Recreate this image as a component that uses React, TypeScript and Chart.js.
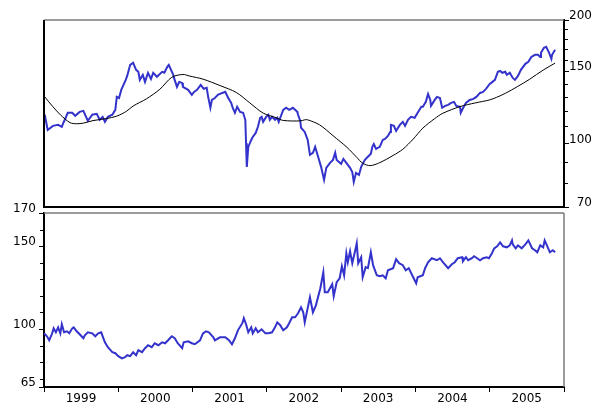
import React, { useEffect, useRef } from "react";
import { Chart, registerables } from "chart.js";
Chart.register(...registerables);

// ---- Top panel: price (log scale, right axis) and its moving average ----
const priceYears = [1999.01,1999.05,1999.12,1999.19,1999.24,1999.26,1999.28,1999.32,1999.38,1999.42,1999.48,1999.53,1999.59,1999.65,1999.71,1999.75,1999.79,1999.82,1999.86,1999.92,1999.96,1999.98,2000.01,2000.04,2000.10,2000.12,2000.16,2000.20,2000.24,2000.27,2000.29,2000.33,2000.36,2000.40,2000.44,2000.47,2000.52,2000.59,2000.62,2000.66,2000.68,2000.74,2000.75,2000.79,2000.82,2000.86,2000.87,2000.94,2000.99,2001.02,2001.06,2001.09,2001.11,2001.15,2001.19,2001.21,2001.24,2001.26,2001.30,2001.34,2001.40,2001.44,2001.48,2001.52,2001.54,2001.57,2001.60,2001.64,2001.68,2001.71,2001.72,2001.73,2001.75,2001.79,2001.81,2001.85,2001.88,2001.91,2001.93,2001.95,2001.99,2002.02,2002.04,2002.07,2002.11,2002.14,2002.16,2002.22,2002.26,2002.30,2002.35,2002.41,2002.42,2002.45,2002.46,2002.51,2002.55,2002.58,2002.62,2002.65,2002.69,2002.73,2002.77,2002.80,2002.85,2002.89,2002.92,2002.94,2003.00,2003.03,2003.07,2003.12,2003.15,2003.17,2003.20,2003.24,2003.27,2003.32,2003.36,2003.40,2003.42,2003.44,2003.47,2003.52,2003.56,2003.59,2003.63,2003.66,2003.67,2003.71,2003.74,2003.79,2003.83,2003.86,2003.90,2003.94,2003.99,2004.03,2004.08,2004.10,2004.14,2004.17,2004.20,2004.21,2004.26,2004.29,2004.33,2004.36,2004.40,2004.44,2004.48,2004.52,2004.55,2004.60,2004.61,2004.65,2004.68,2004.73,2004.78,2004.82,2004.87,2004.91,2004.95,2005.00,2005.02,2005.07,2005.11,2005.14,2005.17,2005.21,2005.23,2005.27,2005.31,2005.34,2005.38,2005.42,2005.48,2005.52,2005.56,2005.61,2005.65,2005.68,2005.69,2005.73,2005.76,2005.80,2005.83,2005.84,2005.88];
const priceValues = [117.5,107.9,110.4,111.0,109.8,112.3,114.2,118.8,118.8,116.8,119.4,120.1,113.6,117.5,118.1,114.2,116.1,112.9,116.1,117.5,120.8,129.9,129.1,135.1,142.9,146.1,155.5,157.3,151.2,149.5,142.9,147.0,141.3,148.7,143.7,148.7,145.4,149.5,148.7,153.8,155.5,147.0,144.5,137.4,141.3,140.5,137.4,135.1,131.4,133.6,135.1,137.4,138.9,135.9,136.6,129.9,122.2,127.7,129.1,131.4,132.8,133.6,129.1,125.6,122.2,118.8,122.9,119.4,118.8,114.2,100.1,87.7,98.1,102.0,103.7,106.1,109.8,115.5,116.1,112.9,116.1,117.5,114.2,116.1,114.2,115.5,112.9,120.8,122.2,120.8,122.2,119.4,117.5,113.5,109.2,106.7,102.0,93.8,94.9,98.1,92.8,87.7,81.5,87.2,89.7,91.2,94.9,91.2,89.2,91.7,89.7,87.2,85.2,80.6,84.8,83.8,87.7,91.2,92.8,94.4,98.1,99.7,97.0,98.1,102.0,102.6,104.3,106.7,111.0,110.4,107.3,111.0,112.9,110.4,114.2,116.1,115.5,118.8,122.9,122.9,126.3,132.1,127.7,123.5,127.7,129.9,129.1,122.2,123.5,124.2,125.6,126.3,123.5,122.9,118.8,122.9,125.6,127.7,128.4,129.9,132.8,133.6,135.9,139.7,140.5,142.9,149.5,150.3,148.7,149.5,147.0,148.7,144.5,142.9,146.1,151.2,156.4,158.1,162.6,164.5,164.5,162.6,166.3,171.1,172.0,166.3,160.8,164.5,169.2];

const avgYears = [1999.01,1999.12,1999.22,1999.35,1999.44,1999.53,1999.66,1999.84,1999.98,2000.11,2000.20,2000.38,2000.56,2000.72,2000.87,2000.96,2001.14,2001.37,2001.59,2001.77,2001.95,2002.13,2002.22,2002.45,2002.51,2002.55,2002.71,2002.89,2003.08,2003.21,2003.29,2003.39,2003.52,2003.70,2003.83,2003.97,2004.10,2004.26,2004.37,2004.60,2004.80,2005.00,2005.09,2005.21,2005.37,2005.54,2005.72,2005.88];
const avgValues = [129.9,122.9,117.5,112.4,111.7,112.1,113.7,115.0,116.6,119.8,123.4,128.5,135.6,145.0,147.3,146.0,143.5,138.4,133.1,125.6,118.6,115.5,113.8,113.5,114.2,114.2,111.0,104.5,97.8,92.5,89.5,88.3,89.8,93.5,96.8,102.5,109.0,115.0,118.5,123.0,125.5,127.7,129.5,132.5,137.5,143.5,151.0,157.0];

const topTicks = [70, 100, 150, 200];
const topMinorTicks = [80, 90, 110, 120, 130, 140, 160, 170, 180, 190];

// ---- Bottom panel: relative series (linear, left axis) ----
const relYears = [1999.00,1999.04,1999.07,1999.11,1999.13,1999.16,1999.19,1999.22,1999.24,1999.27,1999.31,1999.34,1999.38,1999.40,1999.44,1999.48,1999.53,1999.55,1999.59,1999.65,1999.69,1999.73,1999.77,1999.79,1999.82,1999.86,1999.92,1999.96,2000.00,2000.05,2000.09,2000.12,2000.16,2000.20,2000.24,2000.27,2000.32,2000.36,2000.40,2000.45,2000.49,2000.54,2000.59,2000.63,2000.67,2000.72,2000.76,2000.80,2000.86,2000.88,2000.94,2000.99,2001.03,2001.10,2001.14,2001.18,2001.22,2001.28,2001.30,2001.37,2001.44,2001.49,2001.53,2001.57,2001.61,2001.67,2001.69,2001.72,2001.75,2001.79,2001.81,2001.85,2001.88,2001.93,2001.98,2002.02,2002.07,2002.11,2002.14,2002.18,2002.22,2002.27,2002.30,2002.34,2002.38,2002.42,2002.46,2002.49,2002.51,2002.58,2002.62,2002.66,2002.72,2002.76,2002.78,2002.82,2002.88,2002.90,2002.94,2002.98,2003.01,2003.04,2003.07,2003.09,2003.12,2003.15,2003.19,2003.21,2003.23,2003.27,2003.29,2003.33,2003.36,2003.40,2003.43,2003.48,2003.52,2003.56,2003.60,2003.63,2003.70,2003.74,2003.78,2003.83,2003.87,2003.91,2003.97,2004.01,2004.03,2004.10,2004.13,2004.17,2004.22,2004.29,2004.33,2004.37,2004.44,2004.49,2004.53,2004.57,2004.63,2004.64,2004.68,2004.71,2004.76,2004.79,2004.83,2004.87,2004.91,2004.96,2004.99,2005.03,2005.06,2005.10,2005.14,2005.18,2005.23,2005.27,2005.30,2005.31,2005.35,2005.38,2005.43,2005.48,2005.52,2005.57,2005.61,2005.64,2005.68,2005.72,2005.74,2005.77,2005.81,2005.85,2005.88];
const relValues = [97.4,95.6,93.2,97.4,100.4,98.0,101.0,97.4,102.9,98.0,98.6,97.4,100.4,101.0,98.6,96.8,94.4,96.2,98.0,97.4,95.6,97.4,98.0,95.6,92.0,89.0,86.0,85.4,83.6,82.3,83.0,84.2,83.6,86.0,84.2,87.2,86.0,88.4,90.2,89.0,91.4,90.2,92.0,91.4,93.2,95.6,94.4,91.4,88.4,92.0,92.6,91.4,90.8,93.2,97.4,98.6,98.0,95.0,93.2,95.0,95.0,93.2,90.8,94.4,99.2,103.5,106.5,102.9,98.0,101.0,97.4,100.4,98.0,99.8,97.4,97.4,98.0,101.0,104.0,102.3,99.2,101.0,103.5,107.1,107.1,109.5,113.1,110.1,104.0,119.2,110.1,114.3,124.6,134.2,122.2,122.2,127.0,119.8,128.2,130.6,137.9,132.4,145.7,140.3,146.9,139.7,147.5,151.7,139.7,143.3,131.2,137.3,136.7,146.3,138.5,132.4,131.8,132.4,130.6,135.4,136.7,142.1,139.7,138.5,135.4,136.7,131.2,127.6,131.2,132.4,136.7,140.3,142.7,141.5,142.7,140.3,136.7,139.1,140.3,142.7,143.3,140.9,143.3,141.5,142.7,143.9,142.7,141.5,142.7,143.3,142.7,145.7,148.7,149.9,152.3,149.9,149.3,150.5,153.5,151.1,148.7,150.5,148.7,151.1,153.5,148.7,147.5,146.3,150.5,149.3,153.5,150.5,146.3,147.5,146.3];

const bottomTicks = [65, 100, 150, 170];
const bottomMinorTicks = [70, 80, 90, 110, 120, 130, 140, 160];
const yearTicks = [1999, 2000, 2001, 2002, 2003, 2004, 2005, 2006];

const BLUE = "#3333CC";
const FONT = { family: '"DejaVu Sans", sans-serif', size: 12 };

function zip(xs: number[], ys: number[]) {
  return xs.map((x, i) => ({ x, y: ys[i] }));
}

type FrameOpts = {
  grayTop?: boolean;
  grayRight?: boolean;
  blackLeft?: boolean;
  blackBottom?: boolean;
  minor: number[];
  side: "left" | "right";
};

function framePlugin(id: string, o: FrameOpts) {
  return {
    id,
    afterDraw(chart: any) {
      const { ctx, chartArea: a } = chart;
      ctx.save();
      ctx.lineCap = "butt";
      if (o.grayTop) {
        ctx.strokeStyle = "#7a7a7a";
        ctx.lineWidth = 1.5;
        ctx.beginPath();
        ctx.moveTo(a.left, a.top);
        ctx.lineTo(a.right, a.top);
        ctx.stroke();
      }
      if (o.grayRight) {
        ctx.strokeStyle = "#7a7a7a";
        ctx.lineWidth = 1.5;
        ctx.beginPath();
        ctx.moveTo(a.right, a.top);
        ctx.lineTo(a.right, a.bottom);
        ctx.stroke();
      }
      ctx.strokeStyle = "#000";
      ctx.lineWidth = 2;
      if (o.blackLeft) {
        ctx.beginPath();
        ctx.moveTo(a.left, a.top);
        ctx.lineTo(a.left, a.bottom + 1);
        ctx.stroke();
      }
      if (o.blackBottom) {
        ctx.beginPath();
        ctx.moveTo(a.left - 1, a.bottom);
        ctx.lineTo(a.right, a.bottom);
        ctx.stroke();
      }
      const ys = chart.scales.y;
      ctx.lineWidth = 1;
      ctx.beginPath();
      o.minor.forEach((v) => {
        const py = Math.round(ys.getPixelForValue(v)) + 0.5;
        if (o.side === "right") {
          ctx.moveTo(a.right + 1, py);
          ctx.lineTo(a.right + 4, py);
        } else {
          ctx.moveTo(a.left - 4, py);
          ctx.lineTo(a.left - 1, py);
        }
      });
      ctx.stroke();
      ctx.restore();
    },
  };
}

export default function App() {
  const topRef = useRef<HTMLCanvasElement>(null);
  const botRef = useRef<HTMLCanvasElement>(null);

  useEffect(() => {
    const top = new Chart(topRef.current as HTMLCanvasElement, {
      type: "line",
      data: {
        datasets: [
          {
            data: zip(avgYears, avgValues),
            borderColor: "#000",
            borderWidth: 1,
            pointRadius: 0,
            tension: 0.3,
          },
          {
            data: zip(priceYears, priceValues),
            borderColor: BLUE,
            borderWidth: 2,
            pointRadius: 0,
            tension: 0,
          },
        ],
      },
      options: {
        animation: false,
        responsive: false,
        events: [],
        layout: { padding: { left: 44, top: 20, right: 6, bottom: 3 } },
        plugins: { legend: { display: false }, tooltip: { enabled: false } },
        scales: {
          x: { type: "linear", min: 1999, max: 2006, display: false },
          y: {
            type: "logarithmic",
            position: "right",
            min: 70,
            max: 200,
            afterBuildTicks: (s: any) => {
              s.ticks = topTicks.map((v) => ({ value: v }));
            },
            afterFit: (s: any) => {
              s.width = 28;
              s.paddingTop = 0;
              s.paddingBottom = 0;
            },
            border: { display: true, color: "#000", width: 2 },
            grid: { display: true, drawOnChartArea: false, tickLength: 5, tickColor: "#000", tickWidth: 1 },
            ticks: {
              color: "#000",
              font: FONT,
              padding: 0,
              crossAlign: "far",
              labelOffset: -4,
              autoSkip: false,
              callback: (v: any) => String(v),
            },
          },
        },
      },
      plugins: [framePlugin("frameTop", { grayTop: true, blackLeft: true, blackBottom: true, minor: topMinorTicks, side: "right" })],
    } as any);

    const bot = new Chart(botRef.current as HTMLCanvasElement, {
      type: "line",
      data: {
        datasets: [
          {
            data: zip(relYears, relValues),
            borderColor: BLUE,
            borderWidth: 2,
            pointRadius: 0,
            tension: 0,
          },
        ],
      },
      options: {
        animation: false,
        responsive: false,
        events: [],
        layout: { padding: { left: 0, top: 13, right: 34, bottom: 0 } },
        plugins: { legend: { display: false }, tooltip: { enabled: false } },
        scales: {
          x: {
            type: "linear",
            min: 1999,
            max: 2006,
            afterBuildTicks: (s: any) => {
              s.ticks = yearTicks.map((v) => ({ value: v }));
            },
            afterFit: (s: any) => {
              s.height = 15;
              s.paddingLeft = 0;
              s.paddingRight = 0;
            },
            border: { display: true, color: "#000", width: 2 },
            grid: { display: true, drawOnChartArea: false, tickLength: 5, tickColor: "#000", tickWidth: 1 },
            ticks: {
              color: "#000",
              font: FONT,
              padding: 0,
              maxRotation: 0,
              autoSkip: false,
              labelOffset: 37,
              callback: (v: any) => (v < 2006 ? String(v) : ""),
            },
          },
          y: {
            type: "linear",
            position: "left",
            min: 65,
            max: 170,
            afterBuildTicks: (s: any) => {
              s.ticks = bottomTicks.map((v) => ({ value: v }));
            },
            afterFit: (s: any) => {
              s.width = 44;
              s.paddingTop = 0;
              s.paddingBottom = 0;
            },
            border: { display: true, color: "#000", width: 2 },
            grid: { display: true, drawOnChartArea: false, tickLength: 5, tickColor: "#000", tickWidth: 1 },
            ticks: {
              color: "#000",
              font: FONT,
              padding: 3,
              labelOffset: -4,
              autoSkip: false,
              callback: (v: any) => String(v),
            },
          },
        },
      },
      plugins: [framePlugin("frameBottom", { grayTop: true, grayRight: true, minor: bottomMinorTicks, side: "left" })],
    } as any);

    return () => {
      top.destroy();
      bot.destroy();
    };
  }, []);

  return (
    <div style={{ position: "absolute", left: 0, top: 0, width: 598, height: 402, background: "#fff" }}>
      <canvas ref={botRef} width={598} height={202} style={{ position: "absolute", left: 0, top: 200 }} />
      <canvas ref={topRef} width={598} height={210} style={{ position: "absolute", left: 0, top: 0 }} />
    </div>
  );
}
